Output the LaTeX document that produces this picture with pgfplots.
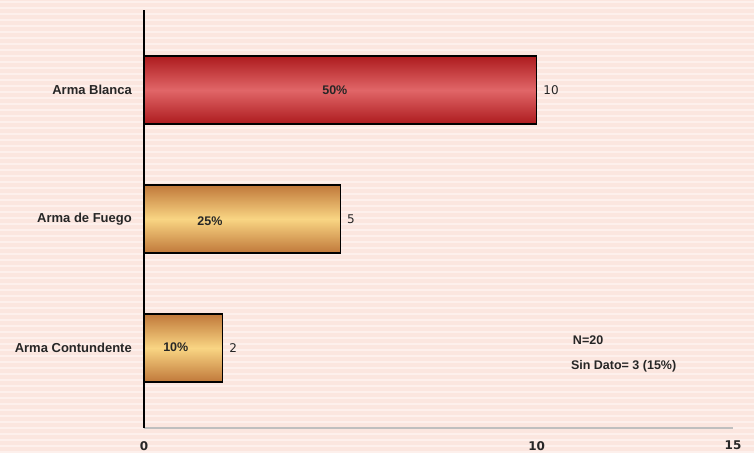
\documentclass[border=0pt]{standalone}
\usepackage{fontspec}
\setmainfont{Liberation Sans}
\newfontfamily\dejavu{DejaVu Sans}
\usepackage{pgfplots}
\pgfplotsset{compat=1.18}
\definecolor{bg}{HTML}{FBE6DF}
\definecolor{bgstripe}{HTML}{FDF0EC}
\definecolor{redD}{HTML}{AD1B1E}
\definecolor{redL}{HTML}{E16668}
\definecolor{goldD}{HTML}{C0783A}
\definecolor{goldL}{HTML}{F9D583}
\definecolor{txt}{HTML}{262626}
\begin{document}
\begin{tikzpicture}
\useasboundingbox (-144pt,-25pt) rectangle (610pt,428pt);
\fill[bg] (-144pt,-25pt) rectangle (610pt,428pt);
\foreach \i in {0,...,75} { \fill[bgstripe] (-144pt,{(-25+\i*6)*1pt}) rectangle (610pt,{(-23+\i*6)*1pt}); }
\begin{axis}[
  at={(0,0)}, anchor=south west, scale only axis,
  width=589pt, height=418pt,
  xmin=0, xmax=15, ymin=-0.62, ymax=2.62,
  xbar, bar width=68pt, bar shift=0pt,
  axis x line*=bottom, axis y line*=left,
  x axis line style={color=black!25, line width=1.5pt},
  y axis line style={color=black, line width=1.5pt},
  xtick={0,10,15}, ytick={0,1,2},
  yticklabels={Arma Contundente, Arma de Fuego, Arma Blanca},
  major tick length=0pt, tick style={draw=none},
  /pgf/number format/assume math mode=true,
  xticklabel style={font=\dejavu\bfseries\fontsize{12}{14}\selectfont, text=txt, inner sep=0pt, anchor=north, yshift=-13pt},
  yticklabel style={font=\bfseries\fontsize{13}{15}\selectfont, text=txt, inner sep=0pt, anchor=east, xshift=-12pt},
  nodes near coords,
  nodes near coords style={font=\dejavu\fontsize{12}{14}\selectfont, text=txt, inner sep=0pt, anchor=west, xshift=6pt},
  clip=false,
]
\addplot[draw=black, line width=1.5pt, top color=redD, bottom color=redD, middle color=redL] coordinates {(10,2)};
\addplot[draw=black, line width=1.5pt, top color=goldD, bottom color=goldD, middle color=goldL] coordinates {(5,1)};
\addplot[draw=black, line width=1.5pt, top color=goldD, bottom color=goldD, middle color=goldL] coordinates {(2,0)};
\node[font=\bfseries\fontsize{12.5}{14}\selectfont, text=txt] at (axis cs:4.86,2) {50\%};
\node[font=\bfseries\fontsize{12.5}{14}\selectfont, text=txt] at (axis cs:1.68,0.98) {25\%};
\node[font=\bfseries\fontsize{12.5}{14}\selectfont, text=txt] at (axis cs:0.81,0.01) {10\%};
\node[font=\bfseries\fontsize{12.5}{14}\selectfont, text=txt, anchor=west, inner sep=0pt] at (axis cs:10.92,0.062) {N=20};
\node[font=\bfseries\fontsize{12.5}{14}\selectfont, text=txt, anchor=west, inner sep=0pt] at (axis cs:10.87,-0.14) {Sin Dato= 3 (15\%)};
\end{axis}
\end{tikzpicture}
\end{document}
